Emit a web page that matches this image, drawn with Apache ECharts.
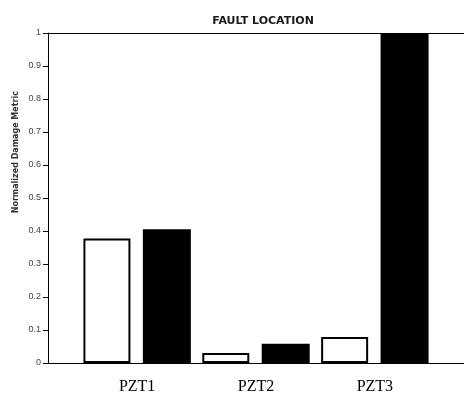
<!DOCTYPE html>
<html>
<head>
<meta charset="utf-8">
<script src="https://cdn.jsdelivr.net/npm/echarts@6/dist/echarts.min.js"></script>
<style>html,body{margin:0;padding:0;background:#fff;}#c{width:464px;height:405px;}</style>
</head>
<body>
<div id="c"></div>
<script>
var categories = ['PZT1', 'PZT2', 'PZT3'];
var whiteValues = [0.377, 0.03, 0.079];
var blackValues = [0.405, 0.058, 1.0];
var yTicks = [0, 0.1, 0.2, 0.3, 0.4, 0.5, 0.6, 0.7, 0.8, 0.9, 1];
var titleText = 'FAULT LOCATION';
var yName = 'Normalized Damage Metric';

var whiteData = whiteValues.map(function (v, i) { return [2 * i + 1, v]; });
var blackData = blackValues.map(function (v, i) { return [2 * i + 2, v]; });

var chart = echarts.init(document.getElementById('c'), null, {renderer: 'canvas'});
chart.setOption({
  animation: false,
  backgroundColor: '#fff',
  title: {
    text: titleText, left: 258, top: 11, textAlign: 'center',
    textStyle: {fontFamily: 'DejaVu Sans', fontWeight: 'bold', fontSize: 11, color: '#1a1a1a'}
  },
  graphic: [{
    type: 'text', left: 12, top: 91, rotation: Math.PI / 2,
    style: {text: yName, fill: '#333', font: 'bold 8px "DejaVu Sans"'}
  }],
  grid: {left: 48, top: 33, width: 419, height: 330, show: false},
  xAxis: [{
    type: 'value', min: 0, max: 7, interval: 0.5,
    axisLine: {show: true, lineStyle: {color: '#000', width: 1}},
    axisTick: {show: false}, splitLine: {show: false},
    axisLabel: {
      margin: 16, color: '#000', fontFamily: 'Liberation Serif, Times New Roman', fontSize: 16,
      showMinLabel: false, showMaxLabel: false,
      formatter: function (v) {
        var k = (v - 1.5) / 2;
        if (Math.abs(k - Math.round(k)) < 1e-6 && k >= 0 && k < categories.length) return categories[Math.round(k)];
        return '';
      }
    }
  }, {
    type: 'value', position: 'top', min: 0, max: 7,
    axisLine: {show: true, onZero: false, lineStyle: {color: '#000', width: 1}},
    axisTick: {show: false}, axisLabel: {show: false}, splitLine: {show: false}
  }],
  yAxis: [{
    type: 'value', min: 0, max: 1, interval: 0.1,
    axisLine: {show: true, lineStyle: {color: '#000', width: 1}},
    axisTick: {show: true, inside: false, length: 3, lineStyle: {color: '#000'}},
    splitLine: {show: false},
    axisLabel: {
      margin: 7, color: '#444', fontFamily: 'Liberation Sans, Arial', fontSize: 9,
      formatter: function (v) { var t = yTicks.filter(function (x) { return Math.abs(x - v) < 1e-9; }); return t.length ? String(t[0]) : ''; }
    }
  }, {
    type: 'value', position: 'right', min: 0, max: 1, interval: 0.1,
    axisLine: {show: false},
    axisTick: {show: true, inside: true, length: 5, lineStyle: {color: '#000'}},
    axisLabel: {show: false}, splitLine: {show: false}
  }],
  series: [{
    type: 'bar', data: whiteData, barWidth: 47,
    itemStyle: {color: '#fff', borderColor: '#000', borderWidth: 2}
  }, {
    type: 'bar', data: blackData, barWidth: 48, barGap: '-100%',
    itemStyle: {color: '#000', borderColor: '#000', borderWidth: 0}
  }]
});
</script>
</body>
</html>
